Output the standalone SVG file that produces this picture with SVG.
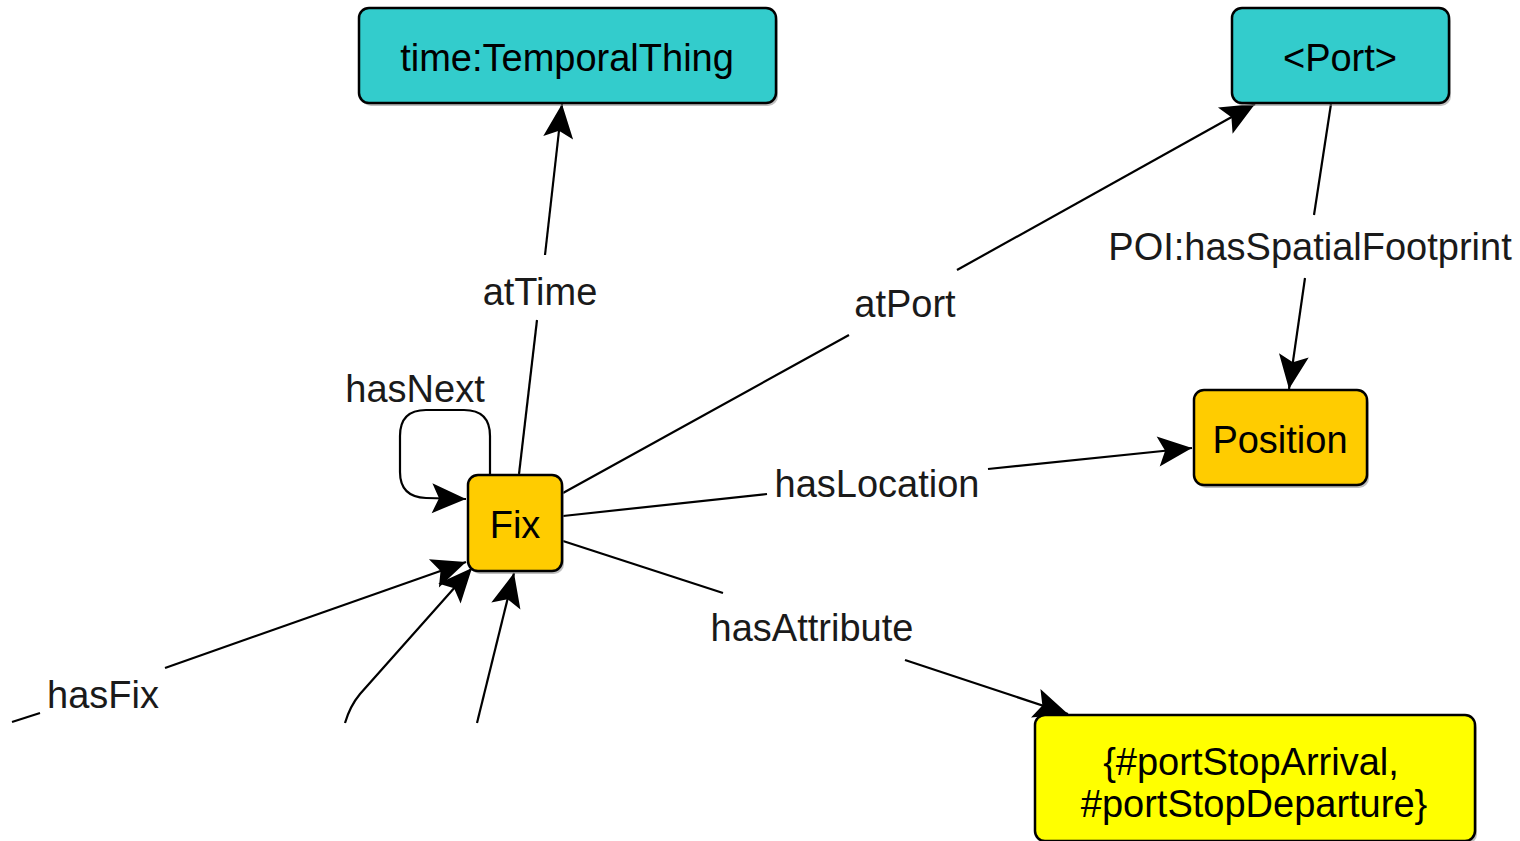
<svg xmlns="http://www.w3.org/2000/svg" width="1520" height="841" viewBox="0 0 1520 841">
<style>
.node{stroke:#000;stroke-width:2.5}
.shadow{fill:#8a8a8a;opacity:0.55}
.t{font-family:"Liberation Sans",Arial,sans-serif;font-size:38px;fill:#000;text-anchor:middle}
.lbl{font-family:"Liberation Sans",Arial,sans-serif;font-size:38px;fill:#1a1a1a;text-anchor:middle}
.e{fill:none;stroke:#000;stroke-width:2.2}
</style>
<defs>
<marker id="arr" markerUnits="userSpaceOnUse" markerWidth="40" markerHeight="36" viewBox="-36 -18 40 36" refX="0" refY="0" orient="auto">
<path d="M0,0 L-34,-15 L-27,0 L-34,15 Z" fill="#000"/>
</marker>
</defs>
<rect width="1520" height="841" fill="#fff"/>
<g id="connectors">
<path class="e" d="M519,474 L537,320"/>
<path class="e" d="M545,255 L562,104" marker-end="url(#arr)"/>
<path class="e" d="M563,493 L849,335"/>
<path class="e" d="M957,270 L1255,104" marker-end="url(#arr)"/>
<path class="e" d="M1331,104 L1314,215"/>
<path class="e" d="M1305,278 L1289,389" marker-end="url(#arr)"/>
<path class="e" d="M563,516 L767,494"/>
<path class="e" d="M988,469 L1192,448" marker-end="url(#arr)"/>
<path class="e" d="M563,541 L723,593"/>
<path class="e" d="M905,660 L1068,714" marker-end="url(#arr)"/>
<path class="e" d="M490,474 L490,436 Q490,410 464,410 L426,410 Q400,410 400,436 L400,472 Q400,497 426,498 L466,499" marker-end="url(#arr)"/>
<path class="e" d="M12,722 L40,713"/>
<path class="e" d="M165,668 L466,562" marker-end="url(#arr)"/>
<path class="e" d="M345,723 Q350,706 360,694 L472,568" marker-end="url(#arr)"/>
<path class="e" d="M477,723 L514,573" marker-end="url(#arr)"/>
<text class="lbl" x="540" y="305">atTime</text>
<text class="lbl" x="905" y="317">atPort</text>
<text class="lbl" x="1310" y="260">POI:hasSpatialFootprint</text>
<text class="lbl" x="877" y="497">hasLocation</text>
<text class="lbl" x="812" y="641">hasAttribute</text>
<text class="lbl" x="415" y="402">hasNext</text>
<text class="lbl" x="103" y="708">hasFix</text>
</g>
<g id="n-time">
<rect class="shadow" x="361" y="11" width="417" height="95" rx="10"/>
<rect class="node" x="359" y="8" width="417" height="95" rx="10" fill="#33CCCC"/>
<text class="t" x="567" y="71">time:TemporalThing</text>
</g>
<g id="n-port">
<rect class="shadow" x="1234" y="11" width="217" height="95" rx="10"/>
<rect class="node" x="1232" y="8" width="217" height="95" rx="10" fill="#33CCCC"/>
<text class="t" x="1340" y="71">&lt;Port&gt;</text>
</g>
<g id="n-position">
<rect class="shadow" x="1196" y="393" width="173" height="95" rx="10"/>
<rect class="node" x="1194" y="390" width="173" height="95" rx="10" fill="#FFCC00"/>
<text class="t" x="1280" y="453">Position</text>
</g>
<g id="n-fix">
<rect class="shadow" x="470" y="478" width="94" height="96" rx="10"/>
<rect class="node" x="468" y="475" width="94" height="96" rx="10" fill="#FFCC00"/>
<text class="t" x="515" y="538">Fix</text>
</g>
<g id="n-attr">
<rect class="shadow" x="1037" y="718" width="440" height="126" rx="10"/>
<rect class="node" x="1035" y="715" width="440" height="126" rx="10" fill="#FFFF00"/>
<text class="t" x="1251" y="775">{#portStopArrival,</text>
<text class="t" x="1254" y="817">#portStopDeparture}</text>
</g>
</svg>
